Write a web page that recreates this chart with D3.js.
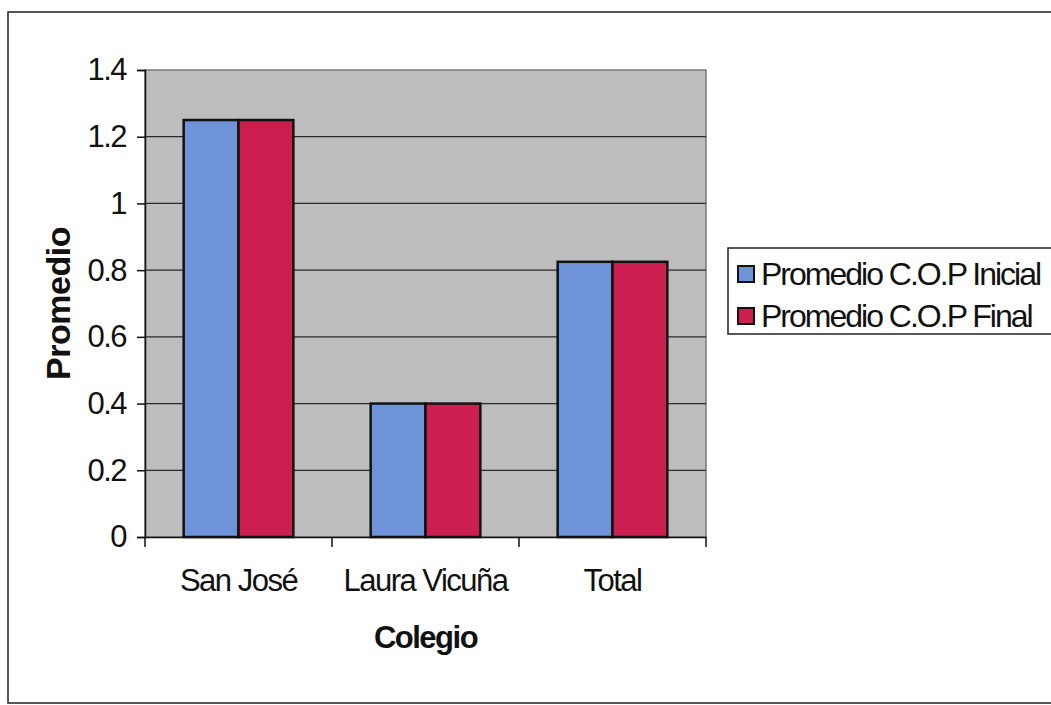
<!DOCTYPE html>
<html>
<head>
<meta charset="utf-8">
<script src="https://cdn.jsdelivr.net/npm/d3@7"></script>
<style>
  html, body { margin: 0; padding: 0; background: #ffffff; }
  svg { display: block; }
  text { font-family: "Liberation Sans", Arial, sans-serif; fill: #111; }
</style>
</head>
<body>
<svg id="chart" width="1051" height="705"></svg>
<script>
const categories = ["San José", "Laura Vicuña", "Total"];
const seriesNames = ["Promedio C.O.P Inicial", "Promedio C.O.P Final"];
const inicialValues = [1.25, 0.40, 0.825];
const finalValues = [1.25, 0.40, 0.825];
const yTicks = [0, 0.2, 0.4, 0.6, 0.8, 1, 1.2, 1.4];
const colors = ["#6f93d9", "#cc1f4f"];

const svg = d3.select("#chart");
const plot = { left: 145, top: 70, right: 706, bottom: 537 };

// outer frame (extends past right edge as in reference)
svg.append("rect").attr("x", 8).attr("y", 12).attr("width", 1100).attr("height", 691)
  .attr("fill", "#fff").attr("stroke", "#222").attr("stroke-width", 1.5);

const x0 = d3.scaleBand().domain(categories).range([plot.left, plot.right]).paddingInner(0).paddingOuter(0);
const x1 = d3.scaleBand().domain(seriesNames).range([0, x0.bandwidth()]).paddingInner(0).paddingOuter(0.705);
const y = d3.scaleLinear().domain([0, 1.4]).range([plot.bottom, plot.top]);

// plot background
svg.append("rect").attr("x", plot.left).attr("y", plot.top)
  .attr("width", plot.right - plot.left).attr("height", plot.bottom - plot.top)
  .attr("fill", "#bdbdbd").attr("stroke", "#7a7a7a").attr("stroke-width", 1.5);

// gridlines
svg.append("g").selectAll("line").data(yTicks.filter(d => d > 0 && d < 1.4)).join("line")
  .attr("x1", plot.left).attr("x2", plot.right)
  .attr("y1", d => y(d)).attr("y2", d => y(d))
  .attr("stroke", "#2a2a2a").attr("stroke-width", 1.2);

// bars
const data = categories.map((c, i) => ({ cat: c, vals: [inicialValues[i], finalValues[i]] }));
const groups = svg.append("g").selectAll("g").data(data).join("g")
  .attr("transform", d => `translate(${x0(d.cat)},0)`);
groups.selectAll("rect").data(d => d.vals.map((v, j) => ({ v, s: seriesNames[j], j }))).join("rect")
  .attr("x", d => x1(d.s)).attr("width", x1.bandwidth())
  .attr("y", d => y(d.v)).attr("height", d => y(0) - y(d.v))
  .attr("fill", d => colors[d.j]).attr("stroke", "#111").attr("stroke-width", 2.5);

// y axis
const yAxis = d3.axisLeft(y).tickValues(yTicks).tickSize(8).tickPadding(11)
  .tickFormat(d => d3.format("")(d));
const gy = svg.append("g").attr("transform", `translate(${plot.left},0)`).call(yAxis);
gy.select(".domain").attr("stroke", "#111").attr("stroke-width", 1.5);
gy.selectAll(".tick line").attr("stroke", "#111").attr("stroke-width", 1.5);
gy.selectAll(".tick text").attr("font-size", 31).attr("fill", "#111").attr("letter-spacing", -1.5)
  .style("font-family", '"Liberation Sans", Arial, sans-serif');

// x axis
const xAxis = d3.axisBottom(x0).tickSize(0).tickPadding(32);
const gx = svg.append("g").attr("transform", `translate(0,${plot.bottom})`).call(xAxis);
gx.select(".domain").attr("stroke", "#111").attr("stroke-width", 1.5);
gx.selectAll(".tick text").attr("font-size", 31).attr("fill", "#111").attr("letter-spacing", -1.5)
  .style("font-family", '"Liberation Sans", Arial, sans-serif');
// category boundary ticks
const bounds = categories.map(c => x0(c)).concat([x0(categories[categories.length - 1]) + x0.bandwidth()]);
gx.append("g").selectAll("line").data(bounds).join("line")
  .attr("x1", d => d).attr("x2", d => d).attr("y1", 0).attr("y2", 10)
  .attr("stroke", "#111").attr("stroke-width", 1.5);

// axis titles
svg.append("text").attr("x", (plot.left + plot.right) / 2).attr("y", 648)
  .attr("text-anchor", "middle").attr("font-size", 31).attr("font-weight", "bold")
  .attr("letter-spacing", -1.5).text("Colegio");
svg.append("text").attr("transform", `translate(70,${(plot.top + plot.bottom) / 2}) rotate(-90)`)
  .attr("text-anchor", "middle").attr("font-size", 34).attr("font-weight", "bold")
  .attr("letter-spacing", -0.5).text("Promedio");

// legend
const leg = svg.append("g");
leg.append("rect").attr("x", 728).attr("y", 248).attr("width", 400).attr("height", 86)
  .attr("fill", "#fff").attr("stroke", "#222").attr("stroke-width", 1.5);
const items = leg.selectAll("g").data(seriesNames).join("g")
  .attr("transform", (d, i) => `translate(738,${266 + i * 42})`);
items.append("rect").attr("width", 16).attr("height", 16)
  .attr("fill", (d, i) => colors[i]).attr("stroke", "#111").attr("stroke-width", 2);
items.append("text").attr("x", 23).attr("y", 19).attr("font-size", 32).attr("letter-spacing", -2)
  .text(d => d);
</script>
</body>
</html>
